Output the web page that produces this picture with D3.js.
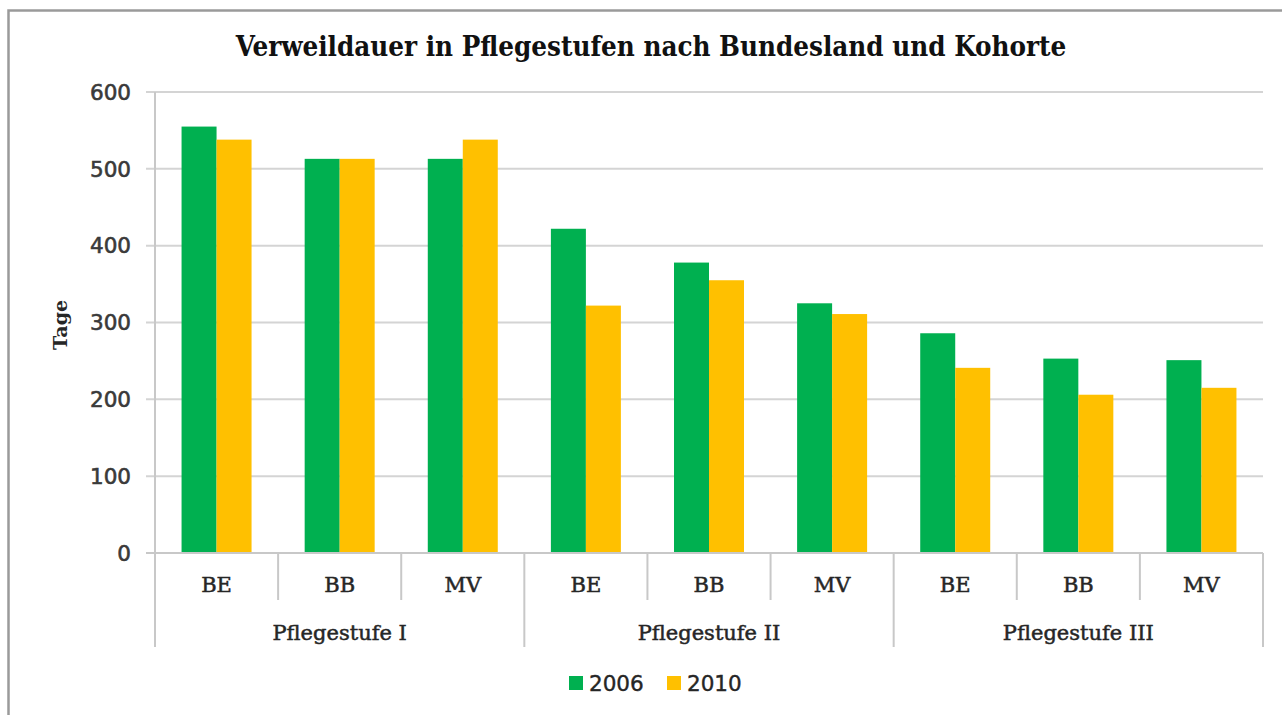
<!DOCTYPE html>
<html><head><meta charset="utf-8">
<script src="https://cdn.jsdelivr.net/npm/d3@7"></script>
<style>html,body{margin:0;padding:0;background:#fff;overflow:hidden}</style>
</head><body><svg id="c" width="1282" height="715"></svg>
<script>
const title = "Verweildauer in Pflegestufen nach Bundesland und Kohorte";
const yLabel = "Tage";
const groups = ["Pflegestufe I", "Pflegestufe II", "Pflegestufe III"];
const states = ["BE", "BB", "MV"];
const seriesNames = ["2006", "2010"];
const values2006 = [555, 513, 513, 422, 378, 325, 286, 253, 251];
const values2010 = [538, 513, 538, 322, 355, 311, 241, 206, 215];
const yTicks = [0, 100, 200, 300, 400, 500, 600];
const colors = ["#00B050", "#FFC000"];

const svg = d3.select("#c");
// frame
svg.append("rect").attr("x", 8.5).attr("y", 10.5).attr("width", 1400).attr("height", 800)
  .attr("fill", "#fff").attr("stroke", "#9a9a9a").attr("stroke-width", 2.5);

const pLeft = 155, pRight = 1263, pTop = 92, pBottom = 553;
const cats = [];
groups.forEach((g, gi) => states.forEach((s, si) => cats.push({g, s, key: g + "|" + s,
  v: [values2006[gi * 3 + si], values2010[gi * 3 + si]]})));

const x = d3.scaleBand().domain(cats.map(d => d.key)).range([pLeft, pRight]).padding(0);
const bw = x.bandwidth();
const xi = d3.scaleBand().domain(seriesNames).range([0, bw]).paddingInner(0).paddingOuter((bw - 70) / 2 / 35);
const y = d3.scaleLinear().domain([0, 600]).range([pBottom, pTop]);

// gridlines
svg.append("g").selectAll("line").data(yTicks).join("line")
  .attr("x1", pLeft - 9).attr("x2", pRight).attr("y1", d => y(d)).attr("y2", d => y(d))
  .attr("stroke", "#d4d4d4").attr("stroke-width", 2);

// y labels
svg.append("g").selectAll("text").data(yTicks).join("text")
  .attr("x", 131).attr("y", d => y(d)).attr("dy", "0.36em").attr("text-anchor", "end")
  .attr("font-family", "DejaVu Sans").attr("font-size", 21.5).attr("fill", "#3a3a3a")
  .attr("stroke", "#3a3a3a").attr("stroke-width", 0.6)
  .text(d => d);

// bars
const bars = svg.append("g");
cats.forEach(c => {
  seriesNames.forEach((s, i) => {
    bars.append("rect").attr("x", x(c.key) + xi(s)).attr("width", xi.bandwidth())
      .attr("y", y(c.v[i])).attr("height", y(0) - y(c.v[i])).attr("fill", colors[i]);
  });
});

// axes lines
const ax = svg.append("g").attr("stroke", "#c8c8c8").attr("stroke-width", 2);
ax.append("line").attr("x1", pLeft).attr("x2", pLeft).attr("y1", pTop).attr("y2", 647);
ax.append("line").attr("x1", pLeft - 9).attr("x2", pRight).attr("y1", pBottom).attr("y2", pBottom);
cats.forEach((c, i) => {
  if (i === 0) return;
  const isGroup = i % 3 === 0;
  ax.append("line").attr("x1", x(c.key)).attr("x2", x(c.key)).attr("y1", pBottom).attr("y2", isGroup ? 647 : 600);
});
ax.append("line").attr("x1", pRight).attr("x2", pRight).attr("y1", pBottom).attr("y2", 647);

// category labels
svg.append("g").selectAll("text").data(cats).join("text")
  .attr("x", d => x(d.key) + bw / 2).attr("y", 592).attr("text-anchor", "middle")
  .attr("font-family", "DejaVu Serif").attr("font-size", 21).attr("fill", "#262626")
  .attr("stroke", "#262626").attr("stroke-width", 0.5)
  .text(d => d.s);
svg.append("g").selectAll("text").data(groups).join("text")
  .attr("x", (d, i) => x(cats[i * 3].key) + bw * 1.5).attr("y", 640).attr("text-anchor", "middle")
  .attr("font-family", "DejaVu Serif").attr("font-size", 21).attr("fill", "#262626")
  .attr("stroke", "#262626").attr("stroke-width", 0.5)
  .text(d => d);

// title
svg.append("text").attr("x", 651).attr("y", 56).attr("text-anchor", "middle")
  .attr("font-family", "DejaVu Serif Condensed, DejaVu Serif").attr("font-weight", "bold")
  .attr("font-size", 27.5).attr("fill", "#111").text(title);

// y label
svg.append("text").attr("transform", "translate(67,325) rotate(-90)").attr("text-anchor", "middle")
  .attr("font-family", "DejaVu Serif").attr("font-weight", "bold").attr("font-size", 19)
  .attr("fill", "#262626").text(yLabel);

// legend
const lg = svg.append("g");
const lx = [569, 667];
seriesNames.forEach((s, i) => {
  lg.append("rect").attr("x", lx[i]).attr("y", 676).attr("width", 14).attr("height", 14).attr("fill", colors[i]);
  lg.append("text").attr("x", lx[i] + 20).attr("y", 683).attr("dy", "0.36em")
    .attr("font-family", "DejaVu Sans").attr("font-size", 21.5).attr("fill", "#262626")
    .attr("stroke", "#262626").attr("stroke-width", 0.4).text(s);
});
</script></body></html>
